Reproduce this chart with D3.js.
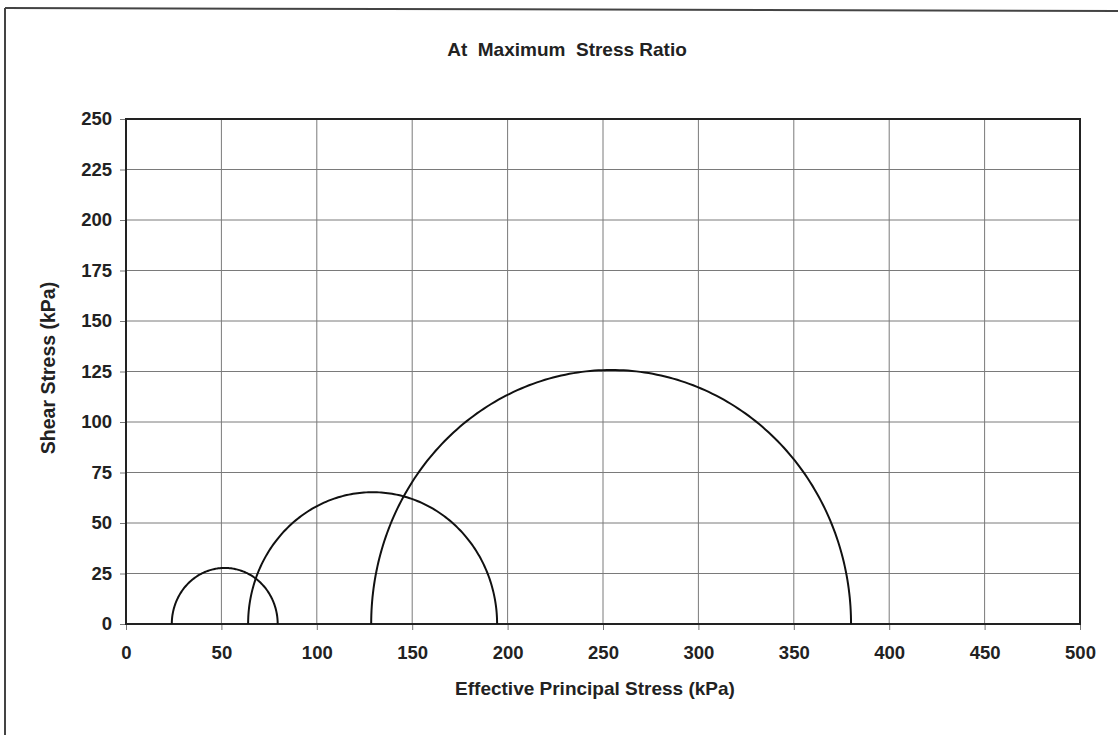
<!DOCTYPE html>
<html><head><meta charset="utf-8">
<script src="https://cdn.jsdelivr.net/npm/d3@7"></script>
<style>body{margin:0;background:#fff}svg{display:block}text{font-family:"Liberation Sans",Arial,sans-serif;font-weight:bold;fill:#222}</style>
</head><body>
<svg id="c" width="1118" height="735"></svg>
<script>
const title = "At  Maximum  Stress Ratio";
const xLabel = "Effective Principal Stress (kPa)";
const yLabel = "Shear Stress (kPa)";
const xTicks = [0,50,100,150,200,250,300,350,400,450,500];
const yTicks = [0,25,50,75,100,125,150,175,200,225,250];
// Mohr circles: minor and major effective principal stress (kPa)
const sigma3 = [24, 64, 128.5];
const sigma1 = [79.5, 194.5, 380];

const svg = d3.select("#c");
const m = {l:126, r:1080, t:119, b:624};
const x = d3.scaleLinear().domain([0,500]).range([m.l,m.r]);
const y = d3.scaleLinear().domain([0,250]).range([m.b,m.t]);

// page frame
svg.append("line").attr("x1",5).attr("x2",5).attr("y1",8).attr("y2",735).attr("stroke","#444").attr("stroke-width",2);
svg.append("line").attr("x1",5).attr("x2",1118).attr("y1",8).attr("y2",11).attr("stroke","#444").attr("stroke-width",2);

// grid
svg.append("g").selectAll("line").data(xTicks.slice(1,-1)).join("line")
  .attr("x1",d=>x(d)).attr("x2",d=>x(d)).attr("y1",m.t).attr("y2",m.b)
  .attr("stroke","#7a7a7a").attr("stroke-width",1);
svg.append("g").selectAll("line").data(yTicks.slice(1,-1)).join("line")
  .attr("x1",m.l).attr("x2",m.r).attr("y1",d=>y(d)).attr("y2",d=>y(d))
  .attr("stroke","#7a7a7a").attr("stroke-width",1);

// axes
const xa = svg.append("g").attr("transform",`translate(0,${m.b})`)
  .call(d3.axisBottom(x).tickValues(xTicks).tickSize(6).tickPadding(16).tickFormat(d3.format("d")));
const ya = svg.append("g").attr("transform",`translate(${m.l},0)`)
  .call(d3.axisLeft(y).tickValues(yTicks).tickSize(6).tickPadding(8).tickFormat(d3.format("d")));
[xa,ya].forEach(a=>{
  a.select(".domain").remove();
  a.selectAll(".tick line").attr("stroke","#777");
  a.selectAll(".tick text").style("font-size","18.5px").style("font-family","'Liberation Sans',Arial,sans-serif").style("font-weight","bold").attr("fill","#222");
});

// plot frame
svg.append("rect").attr("x",m.l).attr("y",m.t).attr("width",m.r-m.l).attr("height",m.b-m.t)
  .attr("fill","none").attr("stroke","#222").attr("stroke-width",2);

// Mohr semicircles
const line = d3.line().x(d=>x(d[0])).y(d=>y(d[1]));
sigma3.forEach((s3,i)=>{
  const s1 = sigma1[i], c=(s1+s3)/2, r=(s1-s3)/2;
  const pts = d3.range(0,181).map(a=>{const t=Math.PI*a/180; return [c - r*Math.cos(t), r*Math.sin(t)];});
  svg.append("path").attr("d",line(pts)).attr("fill","none").attr("stroke","#111").attr("stroke-width",2);
});

// titles
svg.append("text").attr("x",567).attr("y",56).attr("text-anchor","middle").style("font-size","19px").style("white-space","pre").text(title);
svg.append("text").attr("x",595).attr("y",695).attr("text-anchor","middle").style("font-size","19px").text(xLabel);
svg.append("text").attr("transform","translate(55,368) rotate(-90)").attr("text-anchor","middle").style("font-size","19.5px").text(yLabel);
</script>
</body></html>
